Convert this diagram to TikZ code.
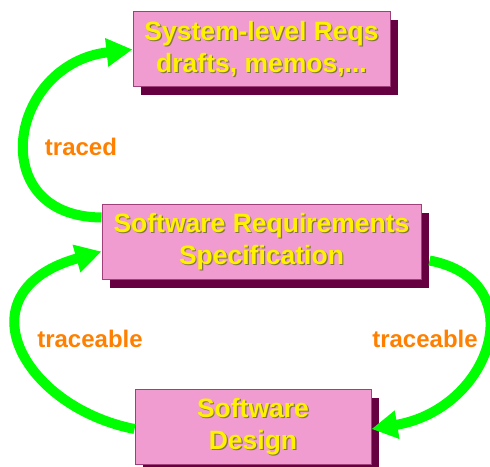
\documentclass[tikz,border=0pt]{standalone}
\usepackage{fontspec}
\setmainfont{Liberation Sans}
\usetikzlibrary{arrows.meta,shadows}
\definecolor{boxpink}{HTML}{F09CD0}
\definecolor{boxedge}{HTML}{A0407A}
\definecolor{boxshadow}{HTML}{660040}
\definecolor{linkgreen}{HTML}{00FF00}
\definecolor{labelorange}{HTML}{FF8000}
\definecolor{txtshadow}{HTML}{857548}
\newcommand\shtxt[1]{\makebox[0pt][l]{\hspace{1.2pt}\raisebox{-1.2pt}{\color{txtshadow}#1}}#1}

\begin{document}
\begin{tikzpicture}[x=1pt,y=1pt,
    docbox/.style={draw=boxedge, fill=boxpink, line width=1pt, text=yellow, align=center,
        font=\fontsize{26.5}{32}\selectfont\bfseries, inner sep=0pt, minimum height=75pt,
        drop shadow={shadow xshift=8pt, shadow yshift=-8pt, fill=boxshadow, opacity=1}},
    link/.style={draw=linkgreen, line width=10pt, -{Triangle[length=26pt,width=27pt]}},
    tracelabel/.style={text=labelorange, font=\fontsize{24}{28}\selectfont\bfseries}]

    \useasboundingbox (0,0) rectangle (490,466);

    \node[docbox, minimum width=257pt] (sysreq) at (261.5,416.5) {\shtxt{System-level Reqs}\\\shtxt{drafts, memos,...}};
    \node[docbox, minimum width=319pt] (srs) at (261.5,223.5) {\shtxt{Software Requirements}\\\shtxt{Specification}};
    \node[docbox, minimum width=236pt, minimum height=74pt] (design) at (253,39) {\shtxt{Software}\\\shtxt{Design}};

\draw[link] ([yshift=25pt]srs.west) .. controls +(-118,1) and +(-124,-14) .. (sysreq.west);
\draw[link] ([yshift=-2pt]design.west) .. controls +(-112,22) and +(-142,-40) .. ([yshift=-9pt]srs.west);
\draw[link] ([xshift=8pt,yshift=-18pt]srs.east) .. controls +(105,-20) and +(120,20) .. ([yshift=-2pt]design.east);

    \node[tracelabel] (traced) at (81,319) {traced};
    \node[tracelabel] (leftlink) at (90,127) {traceable};
    \node[tracelabel] (rightlink) at (425,127) {traceable};
\end{tikzpicture}
\end{document}
